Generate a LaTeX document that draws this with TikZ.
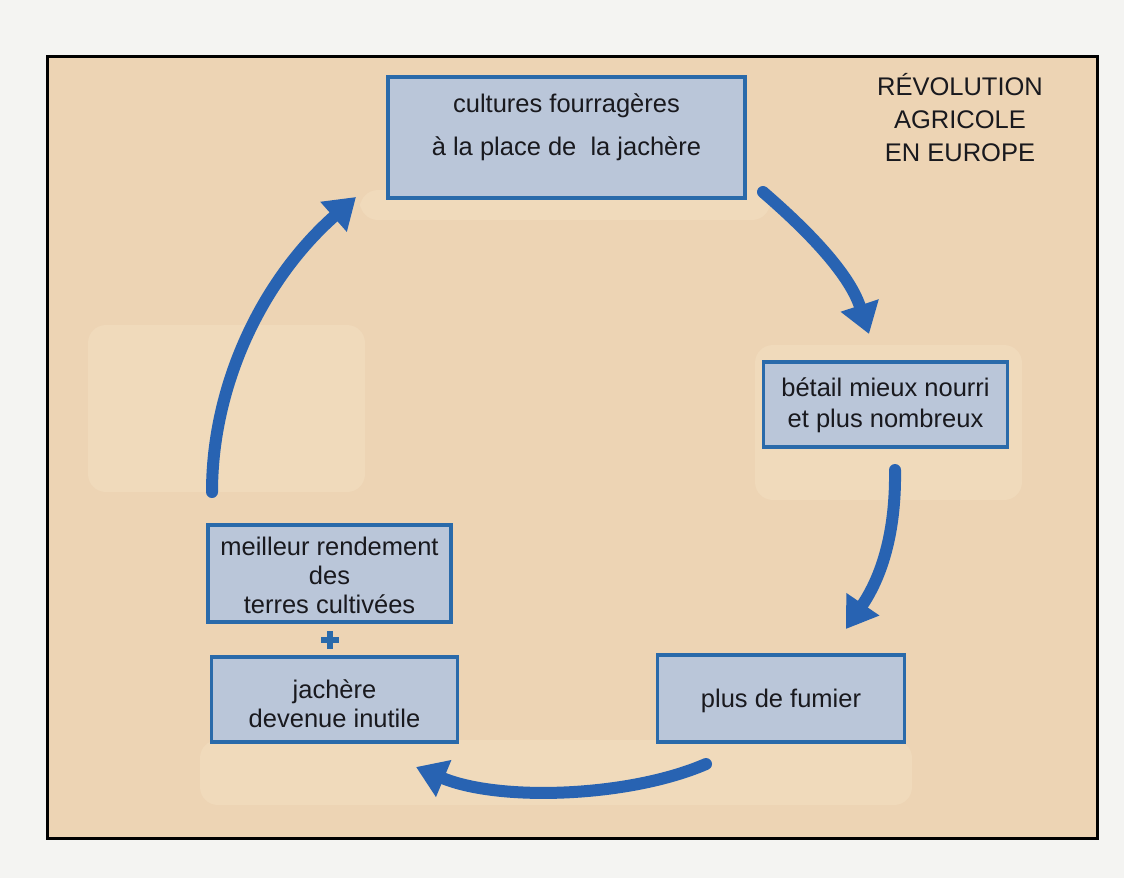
\documentclass[tikz,border=0pt]{standalone}
\usepackage{fontspec}
\setmainfont{Liberation Sans}
\usetikzlibrary{arrows.meta}
\definecolor{outer}{RGB}{244,244,242}
\definecolor{paper}{RGB}{237,212,180}
\definecolor{paperlight}{RGB}{240,218,187}
\definecolor{boxfill}{RGB}{186,198,217}
\definecolor{boxline}{RGB}{42,106,170}
\definecolor{arrowblue}{RGB}{40,99,178}
\definecolor{ink}{RGB}{25,25,30}
\newcommand{\boxtext}[3]{\raisebox{#1}[0pt][0pt]{\fontsize{25.5}{#2}\selectfont\begin{tabular}{@{}c@{}}#3\end{tabular}}}
\begin{document}
\begin{tikzpicture}[x=1pt,y=-1pt,
  box/.style={draw=boxline, line width=3.5pt, fill=boxfill, inner sep=0pt, text=ink},
  flow/.style={draw=arrowblue, line width=12pt, line cap=round, -{Triangle[length=30pt,width=38pt]}},
  patch/.style={fill=paperlight, rounded corners=18pt}]
\useasboundingbox (0,0) rectangle (1124,878);
\fill[outer] (0,0) rectangle (1124,878);
\draw[fill=paper, line width=3pt] (47,56) rectangle (1097,838);
% lighter patches of the paper
\fill[patch] (88,325) rectangle (365,492);
\fill[patch] (755,345) rectangle (1022,500);
\fill[patch] (360,190) rectangle (770,220);
\fill[patch] (200,740) rectangle (912,805);
% title
\node[text=ink, align=center, font=\fontsize{25.5}{33}\selectfont] (titre) at (960,118)
  {RÉVOLUTION\\AGRICOLE\\EN EUROPE};
% boxes
\node[box, minimum width=357pt, minimum height=121pt] (fourrage) at (566.5,137.5)
  {\boxtext{6pt}{43}{cultures fourragères\\à la place de \ la jachère}};
\node[box, minimum width=244pt, minimum height=85pt] (betail) at (885.5,404.5)
  {\boxtext{-8pt}{31}{bétail mieux nourri\\et plus nombreux}};
\node[box, minimum width=247pt, minimum height=87pt] (fumier) at (781,698.5)
  {\boxtext{-9pt}{31}{plus de fumier}};
\node[box, minimum width=243pt, minimum height=97pt] (rendement) at (329.5,573.5)
  {\boxtext{-11pt}{29}{meilleur rendement\\des\hspace{34pt}\\terres cultivées}};
\node[box, minimum width=246pt, minimum height=85pt] (jachere) at (334.5,699.5)
  {\boxtext{-14pt}{29}{jachère\\devenue inutile}};
% plus sign
\coordinate (plus) at (330,640);
\draw[draw=boxline, line width=6pt] ([xshift=-9pt]plus) -- ([xshift=9pt]plus);
\draw[draw=boxline, line width=6pt] ([yshift=-9pt]plus) -- ([yshift=9pt]plus);
% arrow end points
\coordinate (aS) at (212,492);
\coordinate (aE) at (356,197);
\coordinate (bS) at (763,192);
\coordinate (bE) at (869,334);
\coordinate (cS) at (895,470);
\coordinate (cE) at (846,629);
\coordinate (dS) at (706,764);
\coordinate (dE) at (416,767);
% arrows
\draw[flow] (aS) .. controls (212,385) and (262,280) .. (aE);
\draw[flow] (bS) .. controls (800,224) and (848,270) .. (bE);
\draw[flow] (cS) .. controls (896,540) and (878,582) .. (cE);
\draw[flow] (dS) .. controls (630,797) and (500,802) .. (dE);
\end{tikzpicture}
\end{document}
